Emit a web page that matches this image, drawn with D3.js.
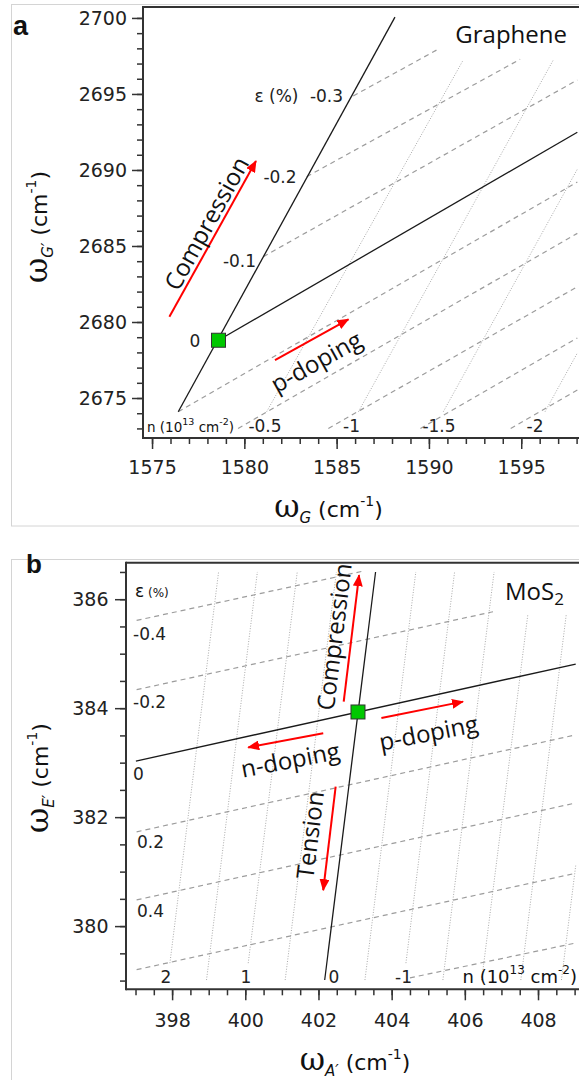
<!DOCTYPE html>
<head>
<meta charset="UTF-8">
<script src="https://cdn.jsdelivr.net/npm/d3@7"></script>
<style>
body { margin: 0; background: #fff; }
svg { display: block; }
.tick line { stroke: #333; stroke-width: 1.5px; }
.tick text { font-family: "DejaVu Sans"; font-size: 19px; fill: #222; }
.axis-line { stroke: #333; stroke-width: 2px; }
.border { fill: none; stroke: #d4d4d4; stroke-width: 1px; }
.solid { fill: none; stroke: #1a1a1a; stroke-width: 1.3px; }
.strain-grid { fill: none; stroke: #9c9c9c; stroke-width: 1.2px; stroke-dasharray: 5,4; }
.doping-grid { fill: none; stroke: #aaa; stroke-width: 1px; stroke-dasharray: 1,1.6; }
.arrow { fill: none; stroke: #f00; stroke-width: 2px; }
.lbl { font-family: "DejaVu Sans"; font-size: 17px; fill: #222; }
.note { font-family: "Open Sans"; font-size: 24px; fill: #111; }
.panel { font-family: "Liberation Sans"; font-weight: bold; fill: #111; }
</style>
</head>
<body>
<script>

// ---------- panel a : graphene ----------
var grapheneXTicks = [1575, 1580, 1585, 1590, 1595];
var grapheneYTicks = [2675, 2680, 2685, 2690, 2695, 2700];
var grapheneOrigin = [1578.6, 2678.8];
var grapheneStrainLine = [[1576.42, 2674.10], [1588.16, 2700.05]];
var grapheneDopingLine = [[1578.6, 2678.8], [1598.04, 2692.48]];
// iso-strain lines, eps = -0.3 .. 0.5 (%)
var grapheneStrainGrid = [
    [[1585.90, 2694.87], [1590.60, 2698.01]],
    [[1583.38, 2689.56], [1594.94, 2697.28]],
    [[1581.03, 2684.30], [1598.04, 2695.92]],
    [[1576.42, 2674.10], [1598.04, 2689.21]],
    [[1579.66, 2673.00], [1598.04, 2685.83]],
    [[1584.55, 2673.00], [1598.04, 2682.32]],
    [[1589.54, 2673.00], [1598.04, 2678.95]],
    [[1594.43, 2673.00], [1598.04, 2675.53]]
];
// iso-doping lines, n = -0.5 .. -2 (10^13 cm^-2)
var grapheneDopingGrid = [
    [[1581.21, 2674.10], [1591.86, 2697.24]],
    [[1586.18, 2674.10], [1596.74, 2697.24]],
    [[1590.78, 2674.10], [1598.04, 2690.05]],
    [[1596.29, 2674.10], [1598.04, 2677.96]]
];
var grapheneArrows = [
    [[1575.94, 2680.34], [1580.63, 2690.59]],
    [[1581.66, 2677.50], [1585.64, 2680.18]]
];
var grapheneEpsLabels = ["0", "-0.1", "-0.2", "-0.3"];
var grapheneNLabels = ["-0.5", "-1", "-1.5", "-2"];

// ---------- panel b : MoS2 ----------
var mosXTicks = [398, 400, 402, 404, 406, 408];
var mosYTicks = [380, 382, 384, 386];
var mosOrigin = [403.08, 383.93];
var mosStrainLine = [[402.17, 379.01], [403.56, 386.50]];
var mosDopingLine = [[397.01, 383.03], [409.03, 384.81]];
// iso-strain lines, eps = -0.4, -0.2, 0.2, 0.4, 0.6, 0.8 (%)
var mosStrainGrid = [
    [[397.03, 385.61], [403.18, 386.51]],
    [[397.03, 384.34], [406.77, 385.77]],
    [[397.03, 381.73], [409.03, 383.51]],
    [[397.03, 380.48], [409.03, 382.26]],
    [[397.03, 379.20], [409.03, 380.97]],
    [[404.50, 379.05], [409.03, 379.69]]
];
// iso-doping lines, n = 2 .. -3 (10^13 cm^-2)
var mosDopingGrid = [
    [[397.94, 379.32], [399.27, 386.50]],
    [[398.94, 379.01], [400.33, 386.50]],
    [[400.08, 379.32], [401.42, 386.50]],
    [[401.09, 379.01], [402.49, 386.50]],
    [[403.27, 379.01], [404.66, 386.50]],
    [[404.39, 379.32], [405.72, 386.50]],
    [[405.40, 379.01], [406.80, 386.50]],
    [[406.46, 379.01], [407.72, 385.71]],
    [[407.53, 379.01], [408.77, 385.71]],
    [[408.64, 379.01], [409.03, 381.11]]
];
var mosArrows = [
    [[402.69, 384.12], [403.11, 386.44]],
    [[403.72, 383.82], [405.95, 384.12]],
    [[402.13, 383.54], [400.08, 383.28]],
    [[402.47, 382.56], [402.13, 380.66]]
];
var mosEpsLabels = ["-0.4", "-0.2", "0", "0.2", "0.4"];
var mosNLabels = ["2", "1", "0", "-1"];

var width = 579, height = 1080;

var svg = d3.select("body").append("svg")
    .attr("width", width)
    .attr("height", height);

var defs = svg.append("defs");
defs.append("marker")
    .attr("id", "head")
    .attr("viewBox", "0 0 12 10")
    .attr("refX", 11).attr("refY", 5)
    .attr("markerWidth", 12).attr("markerHeight", 10)
    .attr("markerUnits", "userSpaceOnUse")
    .attr("orient", "auto")
  .append("path")
    .attr("d", "M0,0L12,5L0,10Z")
    .attr("fill", "#f00");

var line = d3.line();

function drawPanel(p) {
    var x = d3.scaleLinear().domain(p.xDomain).range(p.xRange);
    var y = d3.scaleLinear().domain(p.yDomain).range(p.yRange);
    var g = svg.append("g");

    g.append("rect").attr("class", "border")
        .attr("x", 11.5).attr("y", p.boxTop)
        .attr("width", 600).attr("height", p.boxHeight);

    defs.append("clipPath").attr("id", p.id)
      .append("rect")
        .attr("x", p.xRange[0]).attr("y", p.yRange[1])
        .attr("width", p.xRange[1] - p.xRange[0])
        .attr("height", p.yRange[0] - p.yRange[1]);

    var plot = g.append("g").attr("clip-path", "url(#" + p.id + ")");

    plot.selectAll(".doping-grid").data(p.dopingGrid).enter()
      .append("path").attr("class", "doping-grid")
        .attr("d", function(d) { return line(d.map(function(v) { return [x(v[0]), y(v[1])]; })); });

    plot.selectAll(".strain-grid").data(p.strainGrid).enter()
      .append("path").attr("class", "strain-grid")
        .attr("d", function(d) { return line(d.map(function(v) { return [x(v[0]), y(v[1])]; })); });

    plot.selectAll(".solid").data([p.strainLine, p.dopingLine]).enter()
      .append("path").attr("class", "solid")
        .attr("d", function(d) { return line(d.map(function(v) { return [x(v[0]), y(v[1])]; })); });

    plot.selectAll(".arrow").data(p.arrows).enter()
      .append("path").attr("class", "arrow")
        .attr("marker-end", "url(#head)")
        .attr("d", function(d) { return line(d.map(function(v) { return [x(v[0]), y(v[1])]; })); });

    plot.append("rect")
        .attr("x", x(p.origin[0]) - 7).attr("y", y(p.origin[1]) - 7)
        .attr("width", 14).attr("height", 14)
        .attr("fill", "#00c800").attr("stroke", "#333").attr("stroke-width", 1);

    // axes
    var xMin = d3.axisBottom(x).tickValues(p.xMinor).tickSize(6).tickFormat("");
    var xMaj = d3.axisBottom(x).tickValues(p.xTicks).tickSize(p.tickLen).tickPadding(p.xPad).tickFormat(d3.format("d"));
    var yMin = d3.axisLeft(y).tickValues(p.yMinor).tickSize(6).tickFormat("");
    var yMaj = d3.axisLeft(y).tickValues(p.yTicks).tickSize(p.tickLen).tickPadding(p.yPad).tickFormat(d3.format("d"));

    [xMin, xMaj].forEach(function(a) {
        g.append("g").attr("transform", "translate(0," + p.yRange[0] + ")")
            .call(a).call(function(s) { s.select(".domain").remove(); });
    });
    [yMin, yMaj].forEach(function(a) {
        g.append("g").attr("transform", "translate(" + p.xRange[0] + ",0)")
            .call(a).call(function(s) { s.select(".domain").remove(); });
    });

    g.append("line").attr("class", "axis-line")
        .attr("x1", p.xRange[0]).attr("x2", width)
        .attr("y1", p.yRange[0]).attr("y2", p.yRange[0]);
    g.append("line").attr("class", "axis-line")
        .attr("x1", p.xRange[0]).attr("x2", width)
        .attr("y1", p.yRange[1]).attr("y2", p.yRange[1]);
    g.append("line").attr("class", "axis-line")
        .attr("x1", p.xRange[0]).attr("x2", p.xRange[0])
        .attr("y1", p.yRange[1] - 1).attr("y2", p.yRange[0] + 1);

    return g;
}

// rich text helper: parts = [[text, size, dy, family, style]]
function rich(g, parts, tx, ty, anchor, rot) {
    var t = g.append("text")
        .attr("transform", "translate(" + tx + "," + ty + ")" + (rot ? " rotate(" + rot + ")" : ""))
        .attr("text-anchor", anchor)
        .attr("fill", "#111");
    parts.forEach(function(q) {
        t.append("tspan").text(q[0])
            .attr("font-size", q[1])
            .attr("dy", q[2] || 0)
            .attr("font-family", q[3] || "DejaVu Sans")
            .attr("font-style", q[4] || "normal");
    });
    return t;
}

function axisLabel(g, sub, tx, ty, rot) {
    return rich(g, [
        ["\u03c9", 31, 0, "DejaVu Serif"],
        [sub, 15, 6, "DejaVu Sans", "italic"],
        [" (cm", 22, -6],
        ["-1", 14, -11],
        [")", 22, 11]
    ], tx, ty, "middle", rot);
}

function note(g, txt, cx, cy, rot) {
    g.append("text").attr("class", "note")
        .attr("transform", "translate(" + cx + "," + cy + ") rotate(" + rot + ")")
        .attr("text-anchor", "middle")
        .attr("dominant-baseline", "central")
        .text(txt);
}

// ---------- panel a ----------
var ga = drawPanel({
    id: "clipA",
    xDomain: [1574.51, 1598.13], xRange: [143, 579],
    yDomain: [2672.37, 2700.72], yRange: [438, 7],
    xTicks: grapheneXTicks, yTicks: grapheneYTicks,
    xMinor: d3.range(1575, 1599, 1), yMinor: d3.range(2673, 2701, 1),
    tickLen: 11, xPad: 12, yPad: 5,
    boxTop: 4.5, boxHeight: 521.5,
    origin: grapheneOrigin, strainLine: grapheneStrainLine, dopingLine: grapheneDopingLine,
    strainGrid: grapheneStrainGrid, dopingGrid: grapheneDopingGrid, arrows: grapheneArrows
});

ga.append("text").attr("class", "panel").attr("x", 13).attr("y", 35)
    .attr("font-size", 27).text("a");

var epsPosA = [[195, 347], [239.5, 267], [280, 183], [326.5, 102]];
ga.selectAll(".epsA").data(grapheneEpsLabels).enter()
  .append("text").attr("class", "lbl").attr("text-anchor", "middle")
    .attr("x", function(d, i) { return epsPosA[i][0]; })
    .attr("y", function(d, i) { return epsPosA[i][1]; })
    .text(function(d) { return d; });
ga.append("text").attr("class", "lbl").attr("text-anchor", "middle")
    .attr("x", 276.5).attr("y", 102).text("\u03b5 (%)");

var nPosA = [265, 351.5, 439, 535];
ga.selectAll(".nA").data(grapheneNLabels).enter()
  .append("text").attr("class", "lbl").attr("text-anchor", "middle")
    .attr("x", function(d, i) { return nPosA[i]; })
    .attr("y", 432)
    .text(function(d) { return d; });
rich(ga, [["n (10", 13.5], ["13", 9.5, -7], [" cm", 13.5, 7], ["-2", 9.5, -7], [")", 13.5, 7]],
    147, 432, "start");

ga.append("text").attr("class", "note").attr("font-size", 25)
    .attr("x", 567).attr("y", 43).attr("text-anchor", "end").text("Graphene");

note(ga, "Compression", 205.8, 223, -61);
note(ga, "p-doping", 315.8, 361, -29);

axisLabel(ga, "G", 328.5, 517, 0);
axisLabel(ga, "G\u2032", 47, 227, -90);

// ---------- panel b ----------
var gb = drawPanel({
    id: "clipB",
    xDomain: [396.74, 409.12], xRange: [126, 579],
    yDomain: [378.84, 386.67], yRange: [989.3, 562.7],
    xTicks: mosXTicks, yTicks: mosYTicks,
    xMinor: d3.range(397, 409.01, 0.5), yMinor: d3.range(379, 386.51, 0.5),
    tickLen: 11, xPad: 13, yPad: 6.5,
    boxTop: 559.5, boxHeight: 600,
    origin: mosOrigin, strainLine: mosStrainLine, dopingLine: mosDopingLine,
    strainGrid: mosStrainGrid, dopingGrid: mosDopingGrid, arrows: mosArrows
});

gb.append("text").attr("class", "panel").attr("x", 26).attr("y", 573)
    .attr("font-size", 26).text("b");

var epsPosB = [[133, 640], [133, 708], [133, 780], [137, 848], [137, 917]];
gb.selectAll(".epsB").data(mosEpsLabels).enter()
  .append("text").attr("class", "lbl")
    .attr("x", function(d, i) { return epsPosB[i][0]; })
    .attr("y", function(d, i) { return epsPosB[i][1]; })
    .text(function(d) { return d; });
rich(gb, [["\u03b5", 17], [" (%)", 12]], 135, 597, "start");

var nPosB = [166, 246, 334, 403.5];
gb.selectAll(".nB").data(mosNLabels).enter()
  .append("text").attr("class", "lbl").attr("text-anchor", "middle")
    .attr("x", function(d, i) { return nPosB[i]; })
    .attr("y", 983)
    .text(function(d) { return d; });
rich(gb, [["n (10", 18], ["13", 12, -9], [" cm", 18, 9], ["-2", 12, -9], [")", 18, 9]],
    577, 983, "end");

var mos = gb.append("text").attr("class", "note").attr("font-size", 25)
    .attr("x", 505).attr("y", 600);
mos.append("tspan").text("MoS");
mos.append("tspan").text("2").attr("font-size", 17).attr("dy", 5);

note(gb, "Compression", 333.3, 636.7, -83);
note(gb, "Tension", 309.2, 835, -83);
note(gb, "n-doping", 290, 759, -11);
note(gb, "p-doping", 428.3, 732, -11);

axisLabel(gb, "A\u2032", 355, 1070, 0);
axisLabel(gb, "E\u2032", 48, 778, -90);

</script>
</body>
